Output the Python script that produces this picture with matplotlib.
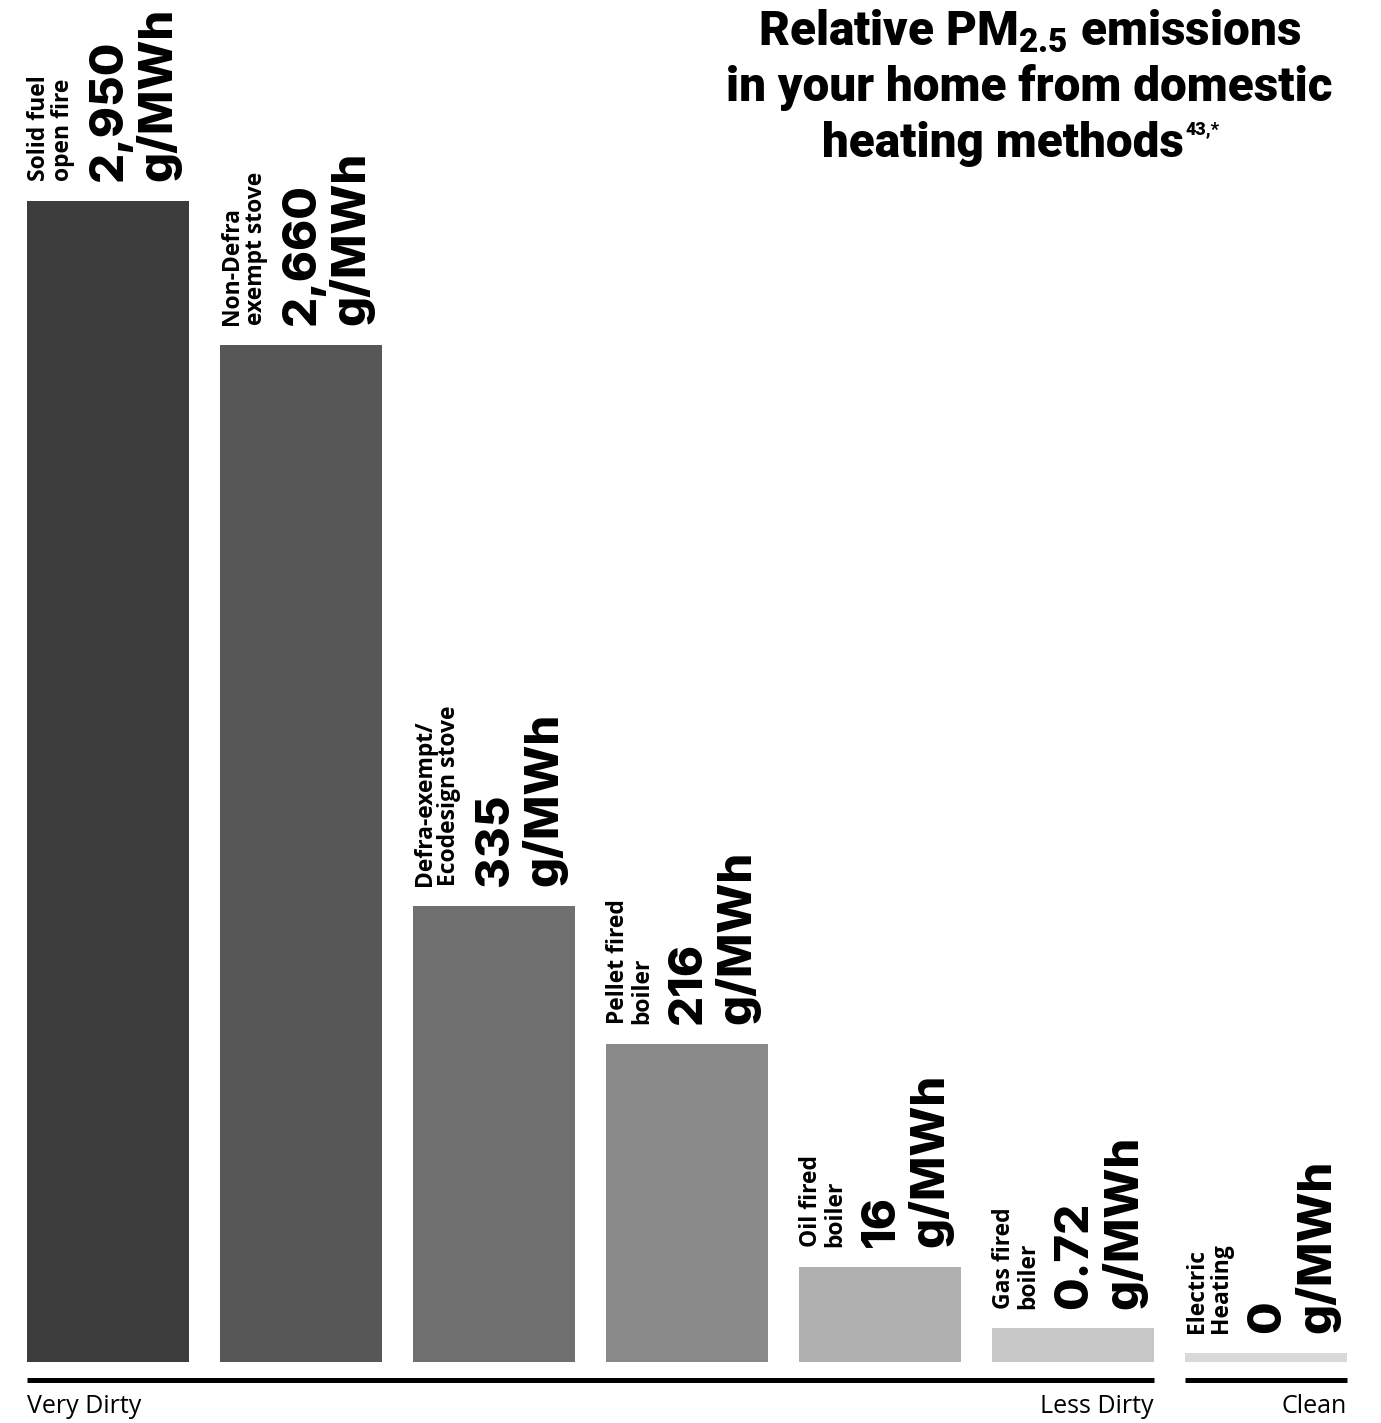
import numpy as np
import matplotlib
matplotlib.use("Agg")
import matplotlib.pyplot as plt

# PM2.5 emissions per heating method (g/MWh) and the bar lengths as drawn
methods = ["Solid fuel\nopen fire", "Non-Defra\nexempt stove", "Defra-exempt/\nEcodesign stove",
           "Pellet fired\nboiler", "Oil fired\nboiler", "Gas fired\nboiler", "Electric\nHeating"]
value_labels = ["2,950", "2,660", "335", "216", "16", "0.72", "0"]
emissions = [2950, 2660, 335, 216, 16, 0.72, 0]
bar_length = [100, 87.6, 39.3, 27.4, 8.2, 2.9, 0.8]   # relative length of each bar in the picture
bar_colors = ["#3d3d3d", "#575757", "#6f6f6f", "#898989", "#b0b0b0", "#c7c7c7", "#d9d9d9"]

plt.rcParams["mathtext.fontset"] = "custom"
plt.rcParams["mathtext.rm"] = "Roboto:black"
plt.rcParams["mathtext.it"] = "Roboto:black"
plt.rcParams["mathtext.bf"] = "Roboto:black"

W, H = 1381, 1423
fig = plt.figure(figsize=(W / 100, H / 100), dpi=100)
ax = fig.add_axes([27 / W, 61 / H, 1320 / W, 1362 / H])

x = np.arange(len(methods))
width = 0.838
ax.bar(x, bar_length, width=width, color=bar_colors)
ax.set_xlim(-width / 2, x[-1] + width / 2)
ax.set_ylim(0, 117.3)
ax.axis("off")

for i in range(len(methods)):
    left = x[i] - width / 2
    ax.annotate(methods[i], xy=(left, bar_length[i]), xytext=(0, 14),
                textcoords="offset points", rotation=90, ha="left", va="bottom",
                family="Open Sans", fontweight="bold", fontsize=16.5, linespacing=1.0)
    ax.annotate(value_labels[i] + "\ng/MWh", xy=(left, bar_length[i]), xytext=(44, 14),
                textcoords="offset points", rotation=90, ha="left", va="bottom",
                family="Inter", fontweight="heavy", fontsize=34, linespacing=1.1)

# dirtiness scale underneath
xt = ax.get_xaxis_transform()
y_line = -17.5 / 1362
ax.plot([x[0] - width / 2, x[5] + width / 2], [y_line, y_line], color="black", lw=3.6,
        solid_capstyle="butt", transform=xt, clip_on=False)
ax.plot([x[6] - width / 2, x[6] + width / 2], [y_line, y_line], color="black", lw=3.6,
        solid_capstyle="butt", transform=xt, clip_on=False)
y_txt = -51 / 1362
ax.text(x[0] - width / 2, y_txt, "Very Dirty", transform=xt, ha="left", va="baseline",
        family="Open Sans", fontsize=18)
ax.text(x[5] + width / 2, y_txt, "Less Dirty", transform=xt, ha="right", va="baseline",
        family="Open Sans", fontsize=18)
ax.text(x[6] + width / 2, y_txt, "Clean", transform=xt, ha="right", va="baseline",
        family="Open Sans", fontsize=18)

# title, with the footnote mark set small after the last line
title_kw = dict(family="Roboto", fontweight="black", fontsize=34.3)
fig.text(1030 / W, 1 - 45 / H, "Relative PM$_{2.5}$ emissions", ha="center", va="baseline", **title_kw)
fig.text(1029 / W, 1 - 101 / H, "in your home from domestic", ha="center", va="baseline", **title_kw)
last = fig.text(1003 / W, 1 - 157 / H, "heating methods", ha="center", va="baseline", **title_kw)
plt.annotate("43,*", xy=(1, 0.62), xycoords=last, xytext=(1, 0), textcoords="offset points",
             ha="left", va="bottom", family="Roboto", fontweight="black", fontsize=13,
             annotation_clip=False)

fig.savefig("out.png", dpi=100)
